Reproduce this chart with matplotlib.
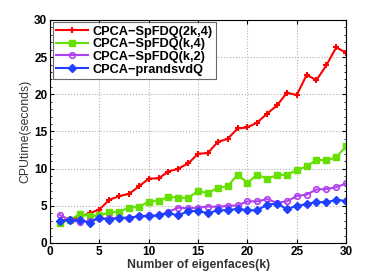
import matplotlib
matplotlib.use('Agg')
import matplotlib.pyplot as plt
from matplotlib.ticker import MultipleLocator

k = list(range(1, 31))

sp_2k4 = [3.0, 3.2, 3.5, 4.0, 4.5, 5.8, 6.3, 6.6, 7.6, 8.65, 8.7, 9.6, 10.0, 10.7, 12.0,
          12.1, 13.6, 14.0, 15.4, 15.55, 16.2, 17.4, 18.5, 20.2, 19.9, 22.6, 21.9, 23.9, 26.3, 25.6]
sp_k4 = [2.7, 3.1, 3.9, 3.6, 3.7, 4.1, 4.2, 4.75, 4.85, 5.55, 5.7, 6.2, 6.1, 6.05, 7.0,
         6.7, 7.45, 7.6, 9.2, 8.1, 9.2, 8.65, 9.1, 9.2, 9.8, 10.3, 11.2, 11.1, 11.5, 13.05]
sp_k2 = [3.75, 3.1, 2.8, 2.95, 3.3, 3.3, 3.4, 3.3, 3.6, 3.7, 3.7, 4.2, 4.75, 4.65, 4.75,
         4.9, 4.85, 5.0, 5.05, 5.6, 5.6, 5.9, 5.4, 5.6, 6.3, 6.5, 7.2, 7.25, 7.5, 8.0]
prandsvd = [2.95, 3.1, 3.05, 2.75, 3.4, 3.1, 3.4, 3.4, 3.6, 3.6, 3.7, 4.0, 3.7, 4.3, 4.3,
            4.0, 4.4, 4.4, 4.6, 4.4, 4.4, 5.15, 5.3, 4.55, 5.0, 5.2, 5.55, 5.45, 5.8, 5.65]

labels = ['CPCA\u2212SpFDQ(2k,4)', 'CPCA\u2212SpFDQ(k,4)', 'CPCA\u2212SpFDQ(k,2)', 'CPCA\u2212prandsvdQ']

plt.rcParams['font.family'] = ['Liberation Sans', 'DejaVu Sans']

fig = plt.figure(figsize=(3.82, 2.73), dpi=100)
ax = fig.add_axes([0.131, 0.11, 0.775, 0.817])

ax.plot(k, sp_2k4, color='#ff0000', lw=1.5, marker='+', ms=4, mew=1.5, label=labels[0])
ax.plot(k, sp_k4, color='#66e000', lw=1.5, marker='s', ms=4, label=labels[1])
ax.plot(k, sp_k2, color='#b040f0', lw=1.5, marker='o', ms=4, mfc='none', mew=1.2, label=labels[2])
ax.plot(k, prandsvd, color='#2040ff', lw=1.5, marker='D', ms=4, label=labels[3])

ax.set_xlim(0, 30)
ax.set_ylim(0, 30)
ax.xaxis.set_major_locator(MultipleLocator(5))
ax.yaxis.set_major_locator(MultipleLocator(5))
ax.yaxis.set_minor_locator(MultipleLocator(1))
ax.tick_params(which='both', direction='in', top=True, right=True, labelsize=8.5, pad=2)
ax.tick_params(which='major', length=3)
ax.tick_params(which='minor', length=1.5)
for lab in ax.get_xticklabels() + ax.get_yticklabels():
    lab.set_fontweight('bold')
ax.grid(True, which='major', linestyle=':', color='#b0b0b0', lw=0.8)

ax.set_xlabel('Number of eigenfaces(k)', fontsize=8.8, fontweight='bold', color='#333333', labelpad=1)
ax.set_ylabel('CPUtime(seconds)', fontsize=8.8, color='#333333', labelpad=2)

leg = ax.legend(loc='upper left', prop={'weight': 'bold', 'size': 9.2}, frameon=True,
                fancybox=False, edgecolor='#444444', handlelength=2.5, borderpad=0.25,
                labelspacing=0.05, borderaxespad=0.2, handletextpad=0.4)
leg.get_frame().set_linewidth(0.8)

fig.savefig('out.png', dpi=100)
